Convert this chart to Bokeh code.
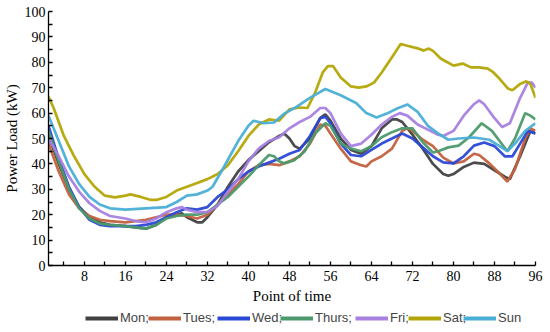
from bokeh.plotting import figure
from bokeh.models import FixedTicker, Legend, LegendItem, Range1d
from bokeh.layouts import column
from bokeh.embed import file_html
from bokeh.resources import INLINE

# ---- data ----
names = ["Mon;", "Tues;", "Wed;", "Thurs;", "Fri;", "Sat;", "Sun"]
colors = ["#414141", "#c2613f", "#2a48d6", "#4c9a6b", "#a67fe0", "#b3a505", "#4aaed6"]

mon_x = [1, 3, 5, 7, 9, 11, 13, 16, 18, 20, 22, 24, 26, 27, 28, 30, 31, 32, 34, 36, 38, 40, 42, 44, 46, 47, 48, 49, 50, 52, 54, 55, 56, 58, 60, 62, 64, 66, 68, 69, 70, 72, 74, 76, 78, 79, 80, 82, 84, 86, 88, 90, 91, 93, 95, 96]
mon_y = [51, 40, 30, 23, 19, 17, 16, 15.5, 15, 14.5, 16, 19, 20, 20.5, 19, 17, 17, 19, 24, 31, 37, 41.5, 45, 48.5, 51, 52, 50, 47, 46, 50, 58, 59.5, 57, 50, 45.5, 44, 47, 54, 57.5, 57.5, 56.5, 51.5, 46, 40, 36, 35.3, 36, 38.8, 40.5, 40, 37.5, 35, 34, 43, 53, 52]

tue_x = [1, 3, 5, 7, 9, 11, 13, 16, 18, 20, 22, 24, 26, 28, 30, 32, 34, 36, 38, 40, 42, 44, 46, 48, 50, 52, 54, 55, 56, 58, 60, 62, 63, 64, 66, 68, 70, 71, 72, 74, 76, 78, 80, 82, 84, 85, 87, 89, 90.5, 92, 94, 95, 96]
tue_y = [48, 37, 28, 22.5, 19.5, 18, 17.5, 17, 17.5, 18, 19, 20, 20, 19.5, 18.5, 20, 24, 28, 32, 37, 39.5, 40, 39.5, 41, 43, 48, 55.5, 55, 52, 46, 41, 39.5, 39, 41, 43, 46, 53, 54, 53, 49.5, 47, 42.5, 40.2, 41, 44, 43.5, 40.2, 36.2, 33, 38, 50, 54, 53]

wed_x = [1, 3, 5, 7, 9, 11, 13, 16, 18, 20, 22, 24, 26, 28, 30, 32, 34, 36, 38, 40, 42, 44, 46, 48, 50, 52, 54, 55, 56, 58, 60, 62, 64, 66, 68, 70, 72, 74, 76, 78, 80, 82, 84, 86, 88, 90, 91.5, 93, 94.5, 96]
wed_y = [55, 42, 31, 23, 18, 16, 15.5, 15.5, 15.5, 16, 17, 19, 21, 22.5, 22, 23, 27, 30, 34, 37, 39, 40.5, 42, 44, 45.5, 51, 58, 58.5, 56, 48, 43.5, 43, 45.5, 48, 50, 52, 50, 46.5, 43, 40.6, 40.2, 43, 47.2, 48.4, 47, 43, 43, 48, 53, 52]

thu_x = [1, 3, 5, 7, 9, 11, 13, 16, 18, 20, 22, 24, 26, 28, 30, 32, 34, 36, 38, 40, 42, 44, 45, 46, 47, 49, 51, 53, 55, 56, 58, 60, 62, 64, 66, 68, 70, 72, 74, 76, 77, 79, 81, 83, 85.5, 87.5, 90.5, 92, 94, 95, 96]
thu_y = [53, 41, 30, 22.5, 18.5, 16.5, 16, 15.5, 15, 14.5, 16, 18.5, 19.5, 20, 20, 21, 24, 27, 31, 35, 39.5, 43.5, 43, 41, 40.2, 41.5, 45, 52, 56, 55, 48, 46, 45, 47, 50.5, 52.5, 54, 54, 48.5, 44.5, 45, 46.5, 47.2, 50.4, 56, 53, 45, 50, 60, 59, 57.5]

fri_x = [1, 3, 5, 7, 9, 11, 13, 16, 18, 20, 22, 24, 26, 27, 28, 30, 32, 34, 36, 38, 40, 42, 44, 46, 48, 50, 52, 54, 55, 56, 58, 60, 62, 64, 66, 68, 69.5, 71, 73, 75, 77, 78, 80, 82, 84, 85, 86, 88, 89.5, 91, 93, 94.5, 95.3, 96]
fri_y = [50, 43, 35, 29, 24.5, 21.5, 19.5, 18.5, 17.5, 17, 18.5, 21, 22.5, 23, 22, 21, 21, 23.5, 29, 34, 41, 46, 49, 50.5, 54, 56.5, 58.5, 62, 62, 60, 52, 47, 48, 51.5, 55.5, 58.5, 60, 59, 55.5, 53.5, 51.5, 51, 53, 59, 63.5, 65, 63.5, 58, 54.5, 56, 66, 72, 72, 70]

sat_x = [1, 2, 4, 6, 8, 10, 12, 14, 16, 17, 19, 21, 22, 24, 26, 28, 30, 32, 34, 36, 38, 40, 42, 44, 46, 48, 50, 51.5, 53, 54.5, 55.5, 56.5, 58, 60, 61.5, 63, 64.5, 66, 68, 69.7, 71, 73, 74.2, 75.2, 76, 77.5, 80, 81.8, 83.4, 85, 86.7, 87.8, 89, 90.6, 91.5, 93, 94.2, 95, 96]
sat_y = [66.5, 62, 51, 43, 36, 31, 27.5, 26.8, 27.5, 28, 27, 25.8, 25.8, 27, 29.5, 31, 32.5, 34, 36, 39.5, 45, 51, 55.5, 57.5, 57, 61.5, 62.2, 62, 68, 76, 78.5, 78.5, 74, 70.5, 70, 70.5, 72, 76, 82, 87.2, 86.5, 85.5, 84.6, 85.4, 84.5, 81.5, 78.7, 79.5, 78, 78, 77.5, 76, 73.5, 69.7, 69, 71.5, 72.5, 71.5, 66]

sun_x = [1, 3, 5, 7, 9, 11, 13, 16, 20, 24, 26, 28, 30, 32, 33, 35, 38, 40, 41, 43, 45, 47, 49, 52, 55, 58, 61, 63, 65, 67, 69, 71, 73, 75, 77, 79, 81, 84, 87, 89, 90.5, 92, 94, 96]
sun_y = [59, 49, 39, 32, 27, 24, 22.5, 22, 22.5, 23, 25, 27.5, 28, 29.5, 31, 38, 49, 55, 57, 56, 56.3, 59.8, 62, 66, 69.5, 67, 64, 60, 58.3, 59.8, 61.8, 63.4, 60.5, 55, 52, 49.5, 50, 50.4, 49.5, 47, 45, 48, 53, 56]

xs = [mon_x, tue_x, wed_x, thu_x, fri_x, sat_x, sun_x]
ys = [mon_y, tue_y, wed_y, thu_y, fri_y, sat_y, sun_y]

x_ticks = [8, 16, 24, 32, 40, 48, 56, 64, 72, 80, 88, 96]
x_minor = [4, 12, 20, 28, 36, 44, 52, 60, 68, 76, 84, 92]
y_ticks = [0, 10, 20, 30, 40, 50, 60, 70, 80, 90, 100]
y_minor = [5, 15, 25, 35, 45, 55, 65, 75, 85, 95]

LW = 2.7

# ---- main figure ----
p = figure(width=545, height=308, output_backend="svg", toolbar_location=None,
           x_range=Range1d(1, 96), y_range=Range1d(0, 100),
           min_border_left=47, min_border_right=10, min_border_top=11, min_border_bottom=43)
p.outline_line_color = None
p.grid.visible = False

for c, x, y in zip(colors, xs, ys):
    p.line(x, y, line_color=c, line_width=LW, line_alpha=0.95)

serif = "Liberation Serif"
for ax in (p.xaxis[0], p.yaxis[0]):
    ax.axis_line_color = "black"
    ax.axis_line_width = 1.3
    ax.major_tick_line_color = "black"
    ax.minor_tick_line_color = "black"
    ax.major_tick_line_width = 1.3
    ax.minor_tick_line_width = 1.3
    ax.major_tick_in = 4
    ax.major_tick_out = 0
    ax.minor_tick_in = 4
    ax.minor_tick_out = 0
    ax.major_label_text_font = serif
    ax.major_label_text_font_size = "14px"
    ax.major_label_text_color = "black"
    ax.axis_label_text_font = serif
    ax.axis_label_text_font_size = "15px"
    ax.axis_label_text_font_style = "normal"
    ax.axis_label_text_color = "black"

p.xaxis[0].major_label_standoff = 5
p.xaxis[0].axis_label_standoff = 4
p.yaxis[0].major_label_standoff = 3
p.yaxis[0].axis_label_standoff = 2

p.xaxis[0].ticker = FixedTicker(ticks=x_ticks, minor_ticks=x_minor)
p.yaxis[0].ticker = FixedTicker(ticks=y_ticks, minor_ticks=y_minor)
p.xaxis[0].axis_label = "Point of time"
p.yaxis[0].axis_label = "Power Load (kW)"

# ---- legend strip (series drawn out of view; only their legend swatches show) ----
lg = figure(width=545, height=24, output_backend="svg", toolbar_location=None,
            x_range=Range1d(200, 201), y_range=Range1d(200, 201),
            x_axis_location=None, y_axis_location=None,
            min_border_left=0, min_border_right=0, min_border_top=0, min_border_bottom=0)
lg.outline_line_color = None
lg.grid.visible = False

# left edge of each legend swatch, in frame pixels (frame is aligned with the main plot)
legend_starts = [37, 100, 169, 232, 307, 360, 415]
for name, c, x, y, x0 in zip(names, colors, xs, ys, legend_starts):
    r = lg.line(x, y, line_color=c, line_width=LW + 1.2)
    leg = Legend(items=[LegendItem(label=name, renderers=[r])],
                 orientation="horizontal", location=(x0, 7),
                 glyph_width=33, glyph_height=10, label_standoff=2, spacing=0,
                 padding=0, margin=0, border_line_color=None,
                 label_text_font="Liberation Sans", label_text_font_size="13px",
                 label_height=14, background_fill_alpha=0)
    lg.add_layout(leg, "center")

layout = column(p, lg, spacing=0)
open("out.html", "w").write(file_html(layout, INLINE))
